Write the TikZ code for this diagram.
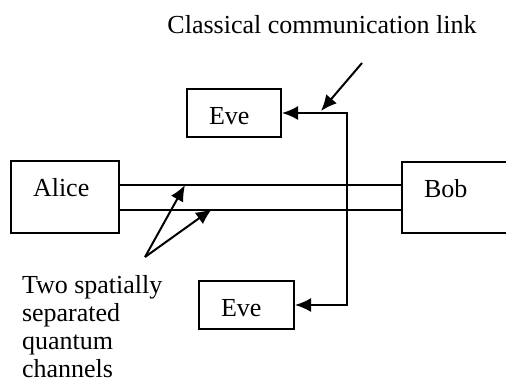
\documentclass[tikz,border=0pt]{standalone}
\usepackage{fontspec}
\setmainfont{Liberation Serif}
\usetikzlibrary{arrows.meta}

\begin{document}
\begin{tikzpicture}[
      x = 0.5pt, y = -0.5pt,
      > = {Latex[length=8pt,width=7pt]},
      line width = 1pt,
      font = \fontsize{13}{14}\selectfont]
      \tikzstyle{agent}=[
      draw = black,
      anchor = north west,
      inner xsep = 11pt,
      inner ysep = 0pt,
      text height = 17.5pt,
      align = left]

      \useasboundingbox (0,0) rectangle (506,380);

      \node[agent, text width=32pt, text depth=18.5pt] (alice) at (10,160) {Alice};
      \node[agent, text width=32pt, text depth=18pt] (bob) at (401,161) {Bob};
      \node[agent, text width=25pt, text depth=6.5pt] (eveA) at (186,88) {Eve};
      \node[agent, text width=25.5pt, text depth=6.5pt] (eveB) at (198,280) {Eve};

      \node[anchor=base] (linklabel) at (322,33) {Classical communication link};
      \node[anchor=north west, inner sep=0pt, align=left] (qlabel) at (21,274)
            {Two spatially\\separated\\quantum\\channels};

      % quantum channels
      \coordinate (chA) at ([yshift=6pt]alice.east);
      \coordinate (chB) at ([yshift=-6.5pt]alice.east);
      \draw (chA) -- (chA -| bob.west);
      \draw (chB) -- (chB -| bob.west);

      % classical link
      \coordinate (link) at (347,200);
      \draw[<->] (eveA.east) -| (link) |- (eveB.east);

      \coordinate (ltail) at (362,63);
      \coordinate (lhead) at (321,111);
      \draw[->] (ltail) -- (lhead);

      \coordinate (qtail) at (145,257);
      \coordinate (qheadA) at (185,185);
      \coordinate (qheadB) at (212,209);
      \draw[->] (qtail) -- (qheadA);
      \draw[->] (qtail) -- (qheadB);
\end{tikzpicture}
\end{document}
